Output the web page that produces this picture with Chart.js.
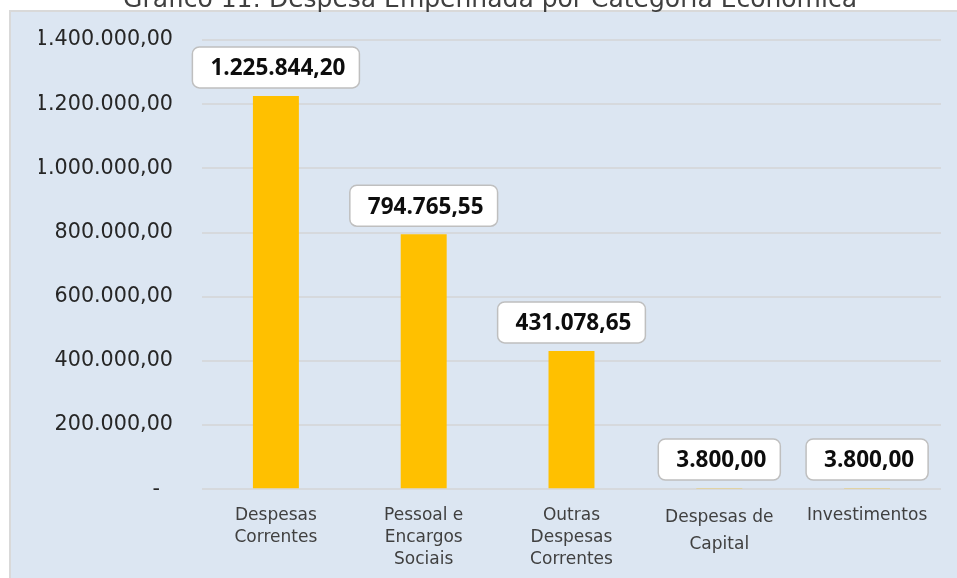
<!DOCTYPE html>
<html>
<head>
<meta charset="utf-8">
<script src="https://cdn.jsdelivr.net/npm/chart.js@4.4.1/dist/chart.umd.min.js"></script>
<style>
  html, body { margin: 0; padding: 0; background: #ffffff; overflow: hidden; width: 957px; height: 578px; }
  #bg { position: absolute; left: 9px; top: 10px; width: 960px; height: 580px; background: #dce6f2; border-left: 2px solid #d9d9d9; border-top: 2px solid #d9d9d9; }
  #c { position: absolute; left: 0; top: -20px; }
</style>
</head>
<body>
<div id="bg"></div>
<canvas id="c" width="957" height="606"></canvas>
<script>
const titleText = "Gráfico 11: Despesa Empenhada por Categoria Econômica";
const categories = [
  ["Despesas", "Correntes"],
  ["Pessoal e", "Encargos", "Sociais"],
  ["Outras", "Despesas", "Correntes"],
  ["Despesas de", "Capital"],
  ["Investimentos"]
];
const values = [1225844.20, 794765.55, 431078.65, 3800.00, 3800.00];
const yMin = 0;
const yMax = 1400000;
const yStep = 200000;
const zeroLabel = "-  ";

function fmtBR(v) {
  const neg = v < 0;
  v = Math.abs(v);
  const fixed = v.toFixed(2);
  let [ip, dp] = fixed.split(".");
  ip = ip.replace(/\B(?=(\d{3})+(?!\d))/g, ".");
  return (neg ? "-" : "") + ip + "," + dp;
}

const canvas = document.getElementById('c');
const H = canvas.height;
const ctx0 = canvas.getContext('2d');
const titleGrad = ctx0.createLinearGradient(0, 0, 0, H);
titleGrad.addColorStop(0, '#404040');
titleGrad.addColorStop(30 / H, '#404040');
titleGrad.addColorStop(30 / H, 'rgba(64,64,64,0)');
titleGrad.addColorStop(1, 'rgba(64,64,64,0)');

const valueLabels = {
  id: 'valueLabels',
  afterDatasetsDraw(chart) {
    const ctx = chart.ctx;
    const meta = chart.getDatasetMeta(0);
    ctx.save();
    ctx.font = 'bold 22.5px "Open Sans", "Liberation Sans", sans-serif';
    meta.data.forEach((el, i) => {
      const txt = fmtBR(chart.data.datasets[0].data[i]);
      const tw = ctx.measureText(txt).width;
      const w = tw + 32;
      const h = 41;
      const bottom = el.y - 8;
      const x0 = el.x - w / 2;
      const y0 = bottom - h;
      ctx.beginPath();
      ctx.roundRect(x0, y0, w, h, 7);
      ctx.fillStyle = '#ffffff';
      ctx.fill();
      ctx.lineWidth = 1.5;
      ctx.strokeStyle = '#bfbfbf';
      ctx.stroke();
      ctx.fillStyle = '#0d0d0d';
      ctx.textAlign = 'center';
      ctx.textBaseline = 'middle';
      ctx.fillText(txt, el.x + 2, y0 + h / 2 + 1.5);
    });
    ctx.restore();
  }
};

new Chart(canvas, {
  type: 'bar',
  data: {
    labels: categories,
    datasets: [{
      data: values,
      backgroundColor: '#ffc000',
      borderWidth: 0,
      barPercentage: 0.311,
      categoryPercentage: 1.0
    }]
  },
  options: {
    responsive: false,
    animation: false,
    events: [],
    layout: { padding: { left: 39, right: 16, top: 0, bottom: 0.5 } },
    plugins: {
      legend: { display: false },
      tooltip: { enabled: false },
      title: {
        display: true,
        text: titleText,
        color: titleGrad,
        font: { family: '"DejaVu Sans", sans-serif', size: 25, weight: 'normal', lineHeight: 1.2 },
        padding: { top: 5.35, bottom: 24.65 }
      }
    },
    scales: {
      x: {
        grid: { display: false, drawTicks: false },
        border: { display: false },
        ticks: {
          color: '#404040',
          padding: 15,
          maxRotation: 0,
          autoSkip: false,
          font: (c) => ({
            family: '"DejaVu Sans", sans-serif',
            size: 17,
            lineHeight: c.index === 3 ? 27 / 17 : 1.3
          })
        }
      },
      y: {
        min: yMin,
        max: yMax,
        grid: { color: '#d6d9dd', lineWidth: 2, drawTicks: false },
        border: { display: false },
        afterFit(scale) { scale.width = 202 - 39; },
        ticks: {
          stepSize: yStep,
          color: '#262626',
          padding: 29,
          font: { family: '"DejaVu Sans", sans-serif', size: 20.7 },
          callback: (v) => v === 0 ? zeroLabel : fmtBR(v)
        }
      }
    }
  },
  plugins: [valueLabels]
});
</script>
</body>
</html>
